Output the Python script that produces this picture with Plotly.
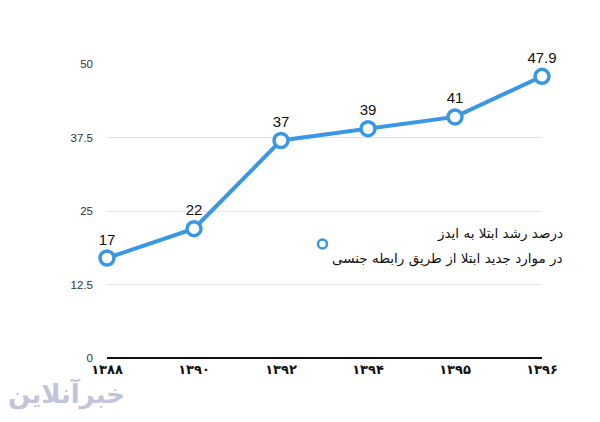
import plotly.graph_objects as go

years = ["۱۳۸۸", "۱۳۹۰", "۱۳۹۲", "۱۳۹۴", "۱۳۹۵", "۱۳۹۶"]
values = [17, 22, 37, 39, 41, 47.9]
value_labels = ["17", "22", "37", "39", "41", "47.9"]
y_ticks = [0, 12.5, 25, 37.5, 50]
y_tick_text = ["0", "12.5", "25", "37.5", "50"]
series_name_lines = ["درصد رشد ابتلا به ایدز", "در موارد جدید ابتلا از طریق رابطه جنسی"]

blue = "#3a97e3"
x_idx = list(range(len(years)))

fig = go.Figure()
fig.add_trace(go.Scatter(
    x=x_idx, y=values, mode="lines+markers+text",
    text=value_labels, textposition="top center",
    textfont=dict(family="Liberation Sans, Arial", size=15, color="#111"),
    line=dict(color=blue, width=4),
    marker=dict(symbol="circle", size=14, color="white", line=dict(color=blue, width=3.5)),
    cliponaxis=False, showlegend=False,
))

W, H = 600, 422
L, R, T, B = 107, 58, 64, 64
PW, PH = W - L - R, H - T - B

def px_x(x):
    return (x - L) / PW

def px_y(y):
    return (H - B - y) / PH

fig.update_layout(
    width=W, height=H,
    margin=dict(l=L, r=R, t=T, b=B),
    paper_bgcolor="white", plot_bgcolor="white",
    xaxis=dict(range=[0, 5], tickvals=x_idx, ticktext=["<b>%s</b>" % y for y in years],
               showgrid=False, zeroline=False, showline=False, ticks="",
               tickfont=dict(family="DejaVu Sans", size=13, color="#111"),
               fixedrange=True),
    yaxis=dict(range=[0, 50], tickvals=y_ticks, ticktext=y_tick_text,
               showgrid=True, gridcolor="#e3e3e3", gridwidth=1,
               zeroline=True, zerolinecolor="#111", zerolinewidth=1.5,
               showline=False, ticks="", ticklen=0,
               tickfont=dict(family="Liberation Sans, Arial", size=11.5, color="#333"),
               fixedrange=True),
    font=dict(family="DejaVu Sans"),
)
fig.update_xaxes(ticklabelstandoff=2)
fig.update_yaxes(ticklabelstandoff=13)

# legend (manually placed to match right-aligned RTL text)
for line, ypx in zip(series_name_lines, [233, 258]):
    fig.add_annotation(
        xref="paper", yref="paper", x=px_x(565), y=px_y(ypx),
        xanchor="right", yanchor="middle", align="right",
        text=line, showarrow=False,
        font=dict(family="DejaVu Sans", size=13.5, color="#111"),
    )
fig.add_shape(
    type="circle", xref="paper", yref="paper",
    x0=px_x(318), x1=px_x(327), y0=px_y(248.5), y1=px_y(239.5),
    line=dict(color=blue, width=2.5), fillcolor="white",
)

# watermark
fig.add_annotation(
    xref="paper", yref="paper", x=px_x(6), y=px_y(412),
    xanchor="left", yanchor="bottom", text="<b>خبرآنلاین</b>", showarrow=False,
    font=dict(family="DejaVu Sans", size=26, color="#c3c3dc"),
)

fig.write_html("out.html")
